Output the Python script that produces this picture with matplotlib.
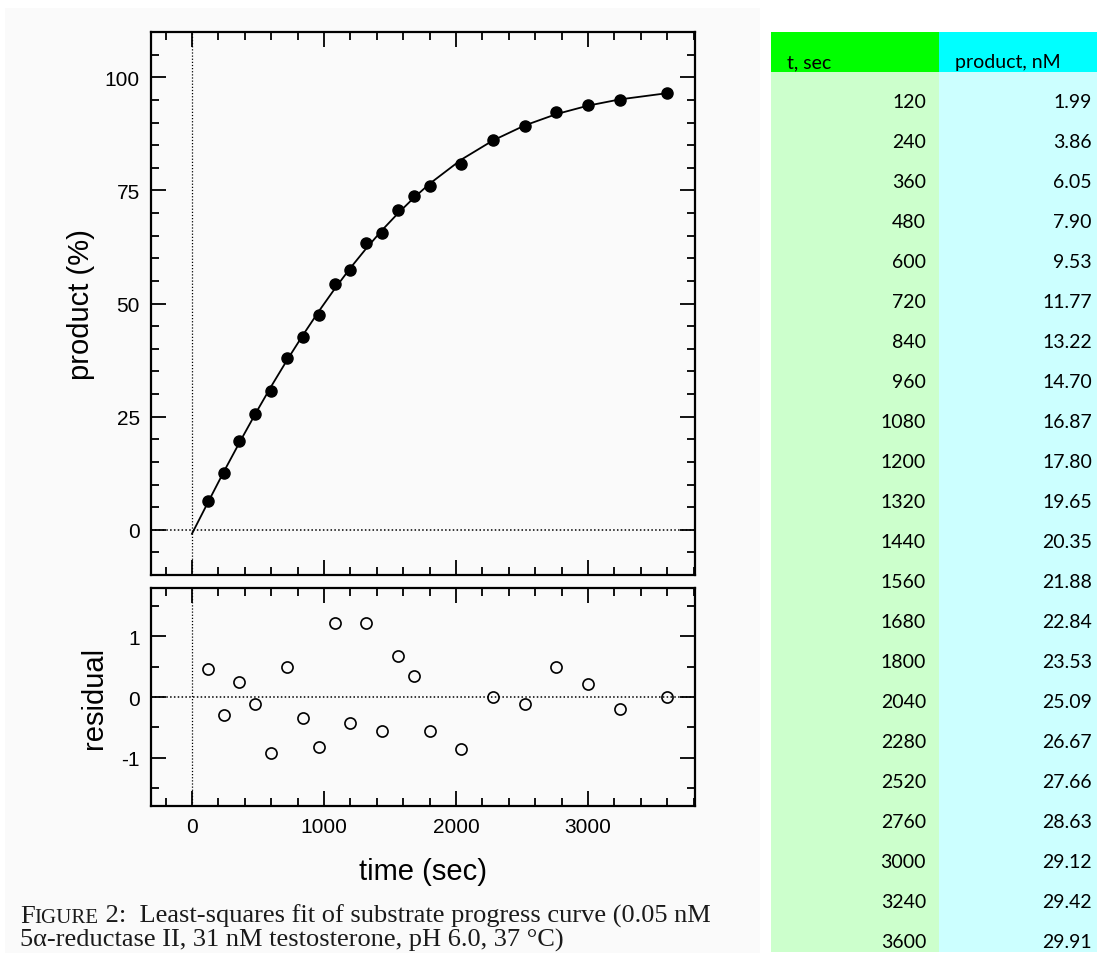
import numpy as np
import matplotlib
matplotlib.use("Agg")
import matplotlib.pyplot as plt
from matplotlib.patches import Rectangle
from matplotlib.ticker import MultipleLocator

# data from the table (t, sec / product, nM)
t_sec = [120, 240, 360, 480, 600, 720, 840, 960, 1080, 1200, 1320, 1440,
         1560, 1680, 1800, 2040, 2280, 2520, 2760, 3000, 3240, 3600]
product_nM = [1.99, 3.86, 6.05, 7.90, 9.53, 11.77, 13.22, 14.70, 16.87, 17.80,
              19.65, 20.35, 21.88, 22.84, 23.53, 25.09, 26.67, 27.66, 28.63,
              29.12, 29.42, 29.91]
substrate_nM = 31.0

# residuals (percent)
residual = [0.46, -0.29, 0.25, -0.11, -0.93, 0.50, -0.34, -0.82, 1.23, -0.43,
            1.22, -0.56, 0.67, 0.34, -0.56, -0.86, 0.00, -0.12, 0.50, 0.21,
            -0.20, 0.00]
fit_at_zero = -0.9   # where the fitted curve starts at t = 0

pct = np.array(product_nM) / substrate_nM * 100
fit_t = [0] + t_sec
fit_y = [fit_at_zero] + list(pct - np.array(residual))

plt.rcParams['axes.unicode_minus'] = False
plt.rcParams['font.family'] = ['Liberation Sans', 'DejaVu Sans']

W, H = 1097, 954
fig = plt.figure(figsize=(W / 100, H / 100), dpi=100)
fig.patch.set_facecolor('white')

def box(x0, y0, x1, y1):
    # pixel box (top-left origin) -> figure fraction rect
    return [x0 / W, 1 - y1 / H, (x1 - x0) / W, (y1 - y0) / H]

# faint grey page of the scanned figure
fig.patches.append(Rectangle((5 / W, 0), 755 / W, 1 - 9 / H, transform=fig.transFigure,
                             facecolor='#fafafa', edgecolor='none', zorder=-10))

ax1 = fig.add_axes(box(151, 33, 695, 576))
ax2 = fig.add_axes(box(151, 589, 695, 807), sharex=ax1)

for ax in (ax1, ax2):
    ax.set_facecolor('none')
    for s in ax.spines.values():
        s.set_linewidth(1.6)
    ax.tick_params(which='both', direction='in', top=True, right=True, width=1.3,
                   labelsize=15, colors='black')
    ax.tick_params(which='major', length=11, pad=8)
    ax.tick_params(which='minor', length=6)
    ax.axvline(0, color='black', lw=0.9, ls=(0, (1, 1.5)), zorder=1)
    ax.axhline(0, color='black', lw=1.1, ls=(0, (1, 1.5)), zorder=1)

ax1.plot(fit_t, fit_y, color='black', lw=1.3, zorder=2)
ax1.plot(t_sec, pct, 'o', color='black', ms=8, zorder=3)
ax1.set_xlim(-310, 3810)
ax1.set_ylim(-10, 110)
ax1.yaxis.set_major_locator(MultipleLocator(25))
ax1.yaxis.set_minor_locator(MultipleLocator(5))
ax1.xaxis.set_major_locator(MultipleLocator(1000))
ax1.xaxis.set_minor_locator(MultipleLocator(200))
ax1.tick_params(labelbottom=False)
ax1.set_ylabel('product (%)', fontsize=21, labelpad=7)

ax2.plot(t_sec, residual, 'o', mfc='none', mec='black', mew=1.2, ms=8, zorder=3)
ax2.set_ylim(-1.8, 1.8)
ax2.yaxis.set_major_locator(MultipleLocator(1))
ax2.yaxis.set_minor_locator(MultipleLocator(0.5))
ax2.set_ylabel('residual', fontsize=21, labelpad=10)
ax2.set_xlabel('time (sec)', fontsize=21, labelpad=15)

# caption with small caps "FIGURE"
cap = dict(family=['Liberation Serif', 'DejaVu Serif'], color='#1a1a1a')
y1 = 1 - 923 / H
t0 = fig.text(20 / W, y1, 'F', fontsize=19, **cap)
t1 = fig.text(0, y1, 'IGURE', fontsize=15, **cap)
fig.canvas.draw()
r = fig.canvas.get_renderer()
bb = t0.get_window_extent(r)
t1.set_position((bb.x1 / W, y1))
bb = t1.get_window_extent(r)
fig.text(bb.x1 / W, y1,
         ' 2:  Least-squares fit of substrate progress curve (0.05 nM', fontsize=19, **cap)
fig.text(20 / W, 1 - 947 / H,
         '5α-reductase II, 31 nM testosterone, pH 6.0, 37 °C)', fontsize=19, **cap)

# table on the right
tab = fig.add_axes(box(771, 33, 1097, 953))
tab.set_xlim(771, 1097)
tab.set_ylim(953, 33)
tab.axis('off')
col_green = (771, 939)
col_cyan = (939, 1097)
tab.add_patch(Rectangle((col_green[0], 33), col_green[1] - col_green[0], 40, fc='#00ff00', ec='none'))
tab.add_patch(Rectangle((col_cyan[0], 33), col_cyan[1] - col_cyan[0], 40, fc='#00ffff', ec='none'))
tab.add_patch(Rectangle((col_green[0], 73), col_green[1] - col_green[0], 880, fc='#ccffcc', ec='none'))
tab.add_patch(Rectangle((col_cyan[0], 73), col_cyan[1] - col_cyan[0], 880, fc='#ccffff', ec='none'))
tfont = dict(family=['Lato', 'DejaVu Sans'], fontsize=14, color='black')
tab.text(787, 68, 't, sec', va='baseline', ha='left', **tfont)
tab.text(955, 68, 'product, nM', va='baseline', ha='left', **tfont)
for i, (tv, pv) in enumerate(zip(t_sec, product_nM)):
    yb = 73 + 40 * (i + 1) - 5
    tab.text(926, yb, str(tv), va='baseline', ha='right', **tfont)
    tab.text(1092, yb, f'{pv:.2f}', va='baseline', ha='right', **tfont)

fig.savefig('out.png', dpi=100)
